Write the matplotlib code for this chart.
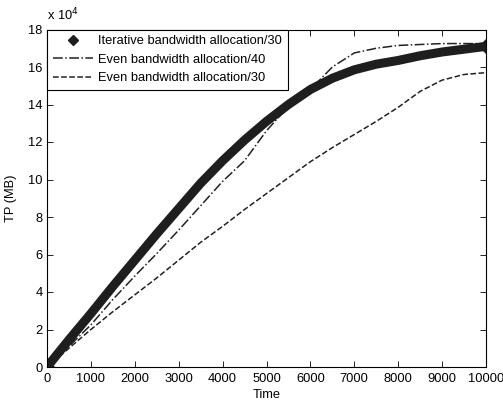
import matplotlib
matplotlib.use('Agg')
import numpy as np
from matplotlib import pyplot as plt
from matplotlib.lines import Line2D

plt.rcParams['font.family'] = ['Liberation Sans', 'DejaVu Sans']
plt.rcParams['font.size'] = 9.3

# time axis and throughput (units of 1e4 MB)
time = [0, 500, 1000, 1500, 2000, 2500, 3000, 3500, 4000, 4500, 5000,
        5500, 6000, 6500, 7000, 7500, 8000, 8500, 9000, 9500, 10000]
iterative_30 = [0, 1.45, 2.85, 4.3, 5.7, 7.1, 8.45, 9.8, 11.0, 12.1, 13.1,
                14.0, 14.8, 15.4, 15.85, 16.15, 16.35, 16.6, 16.8, 16.95, 17.1]
even_40 = [0, 1.1, 2.25, 3.6, 4.85, 6.05, 7.3, 8.6, 9.9, 11.0, 12.6,
           13.9, 14.8, 16.0, 16.75, 17.0, 17.15, 17.2, 17.25, 17.25, 17.25]
even_30 = [0, 1.0, 2.0, 2.95, 3.85, 4.75, 5.7, 6.65, 7.5, 8.4, 9.25,
           10.1, 10.95, 11.7, 12.4, 13.1, 13.85, 14.7, 15.3, 15.6, 15.7]
labels = ['Iterative bandwidth allocation/30',
          'Even bandwidth allocation/40',
          'Even bandwidth allocation/30']

fig = plt.figure(figsize=(5.03, 4.05), dpi=100)
ax = fig.add_axes([47 / 503, 1 - 367 / 405, (486 - 47) / 503, (367 - 29.5) / 405])

ax.plot(time, even_40, linestyle='-.', color='#222222', linewidth=1.1)
ax.plot(time, even_30, linestyle='--', color='#222222', linewidth=1.1)
ax.plot(time, iterative_30, linestyle='-', color='#1e1e1e', linewidth=6.5,
        solid_capstyle='butt', solid_joinstyle='round',
        marker='D', markersize=7.5, markevery=[0, -1])

ax.set_xlim(0, 10000)
ax.set_ylim(0, 18)
ax.set_xticks(range(0, 10001, 1000))
ax.set_yticks(range(0, 19, 2))
ax.tick_params(direction='in', top=True, right=True, length=4.5, width=0.6)
ax.tick_params(axis='x', pad=4)
ax.tick_params(axis='y', pad=3)
for s in ax.spines.values():
    s.set_linewidth(0.8)
ax.set_xlabel('Time')
ax.set_ylabel('TP (MB)')
ax.xaxis.set_label_coords(0.5, -0.066)
ax.yaxis.set_label_coords(-0.068, 0.5)
ax.text(0, 1.018, r'x 10$^4$', transform=ax.transAxes, fontsize=9.3,
        ha='left', va='bottom')

handles = [Line2D([], [], marker='D', markersize=5, color='#1e1e1e', linestyle='none'),
           Line2D([], [], linestyle='-.', color='#222222', linewidth=1.1),
           Line2D([], [], linestyle='--', color='#222222', linewidth=1.1)]
leg = ax.legend(handles, labels, loc='upper left', fancybox=False,
                edgecolor='black', framealpha=1, borderaxespad=0,
                handlelength=3.1, handletextpad=0.4, borderpad=0.45,
                labelspacing=0.5, fontsize=9.3)
leg.get_frame().set_linewidth(0.8)

fig.savefig('out.png', dpi=100)
